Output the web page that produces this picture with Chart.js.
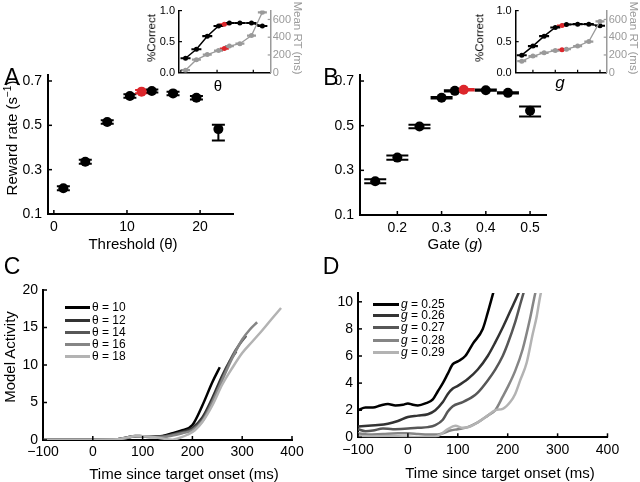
<!DOCTYPE html>
<html>
<head>
<meta charset="utf-8">
<script src="https://cdn.jsdelivr.net/npm/chart.js@4.4.1/dist/chart.umd.min.js"></script>
<style>
  body { margin: 0; background: #fff; }
  #fig { position: relative; width: 640px; height: 482px; overflow: hidden; font-family: "Liberation Sans", Arial, sans-serif; }
  #fig canvas { position: absolute; left: 0; top: 0; }
  .t { position: absolute; white-space: nowrap; line-height: 1; transform: translate(-50%, -50%); }
  .leg { position: absolute; font-size: 12px; line-height: 1; white-space: nowrap; }
</style>
</head>
<body>
<div id="fig">
  <canvas id="cA" width="640" height="482"></canvas>
  <canvas id="cB" width="640" height="482"></canvas>
  <canvas id="cC" width="640" height="482"></canvas>
  <canvas id="cD" width="640" height="482"></canvas>
  <canvas id="iA" width="640" height="482"></canvas>
  <canvas id="iB" width="640" height="482"></canvas>
</div>
<script>
// ---------- data ----------
// panel A: reward rate vs threshold
const thetaA = [1.3, 4.3, 7.3, 10.4, 12, 13.4, 16.3, 19.5, 22.5];
const rewardA = [0.216, 0.336, 0.515, 0.632, 0.652, 0.655, 0.644, 0.624, 0.483];
const rewardA_lo = [0.207, 0.327, 0.507, 0.624, 0.645, 0.648, 0.636, 0.616, 0.432];
const rewardA_hi = [0.225, 0.345, 0.523, 0.640, 0.659, 0.662, 0.652, 0.632, 0.503];
const bestA = 4;

// panel B: reward rate vs gate
const gateB = [0.15, 0.2, 0.25, 0.3, 0.33, 0.35, 0.4, 0.45, 0.5];
const rewardB = [0.251, 0.357, 0.496, 0.625, 0.656, 0.661, 0.659, 0.647, 0.567];
const rewardB_lo = [0.242, 0.348, 0.488, 0.622, 0.653, 0.658, 0.656, 0.644, 0.541];
const rewardB_hi = [0.260, 0.366, 0.504, 0.628, 0.659, 0.664, 0.662, 0.650, 0.586];
const bestB = 5;

// insets: % correct and mean RT
const correctA = [0.233, 0.378, 0.588, 0.752, 0.78, 0.80, 0.80, 0.80, 0.752];
const rtA = [28, 147, 204, 249, 272, 300, 327, 418, 681];
const correctB = [0.282, 0.428, 0.588, 0.728, 0.76, 0.777, 0.782, 0.782, 0.757];
const rtB = [130, 188, 224, 249, 258, 265, 300, 351, 578];

// panel C: activity traces per threshold  [time ms, activity]
const theta10 = [[-100,0.05],[-50,0.05],[0,0.05],[50,0.1],[70,0.35],[85,0.55],[100,0.5],[120,0.45],[140,0.55],[160,0.9],[180,1.3],[200,2.0],[220,4.6],[240,7.7],[255,9.7]];
const theta12 = [[-100,0.05],[-50,0.05],[0,0.05],[50,0.1],[70,0.35],[85,0.5],[100,0.5],[120,0.45],[140,0.5],[160,0.75],[180,1.1],[200,1.6],[220,3.0],[240,5.6],[260,8.6],[275,10.5],[288,11.8]];
const theta14 = [[-100,0.05],[-50,0.05],[0,0.05],[50,0.1],[70,0.3],[85,0.5],[100,0.45],[120,0.4],[140,0.45],[160,0.7],[180,1.0],[200,1.4],[220,2.7],[240,5.2],[260,8.2],[280,11.2],[295,12.8],[308,13.9]];
const theta16 = [[-100,0.05],[-50,0.05],[0,0.05],[50,0.1],[70,0.3],[85,0.5],[100,0.45],[120,0.4],[140,0.4],[160,0.6],[180,0.9],[200,1.3],[220,2.5],[240,5.0],[260,8.0],[280,10.9],[300,13.4],[315,14.7],[330,15.7]];
const theta18 = [[-100,0.05],[-50,0.05],[0,0.05],[50,0.1],[70,0.35],[85,0.55],[100,0.5],[120,0.4],[140,0.2],[160,0.05],[175,0.3],[190,0.7],[205,1.3],[220,2.4],[240,4.6],[260,7.4],[280,9.6],[300,11.6],[320,13.1],[340,14.6],[360,16.2],[378,17.6]];
const thetaLabels = ['θ = 10', 'θ = 12', 'θ = 14', 'θ = 16', 'θ = 18'];

// panel D: activity traces per gate
const gate25 = [[-100,2.0],[-85,2.2],[-70,2.2],[-55,2.35],[-40,2.45],[-25,2.35],[-10,2.4],[0,2.5],[10,2.4],[20,2.35],[35,2.5],[50,2.8],[60,3.4],[70,4.0],[80,4.7],[90,5.4],[100,5.6],[115,6.0],[130,6.9],[150,8.0],[160,9.2],[175,11.2]];
const gate26 = [[-100,0.8],[-80,0.85],[-60,0.9],[-40,1.0],[-20,1.2],[0,1.5],[20,1.6],[40,1.7],[55,2.0],[70,2.6],[80,3.2],[90,3.6],[100,3.8],[120,4.3],[140,5.0],[160,6.0],[175,7.0],[190,8.1],[205,9.3],[220,10.5],[228,11.2]];
const gate27 = [[-100,0.6],[-85,0.45],[-70,0.5],[-50,0.65],[-30,0.6],[0,0.65],[20,0.7],[40,0.75],[55,0.9],[70,1.3],[80,1.9],[90,2.3],[110,2.6],[130,3.0],[140,3.3],[160,4.2],[175,5.0],[190,6.0],[200,6.9],[215,8.5],[225,9.8],[236,11.2]];
const gate28 = [[-100,0.3],[-80,0.2],[-50,0.25],[-20,0.3],[0,0.3],[20,0.25],[40,0.2],[60,0.2],[70,0.3],[85,0.5],[100,0.6],[120,0.75],[140,1.1],[160,1.6],[175,2.0],[190,3.0],[200,3.7],[215,4.9],[230,6.5],[245,8.8],[255,10.6],[260,11.3]];
const gate29 = [[-100,0.1],[-70,0.05],[-40,0.1],[0,0.05],[30,0.0],[50,0.0],[65,0.2],[80,0.6],[95,0.85],[110,0.7],[125,0.8],[140,1.1],[160,1.6],[175,2.0],[190,2.1],[205,2.6],[215,3.2],[225,4.2],[238,5.5],[250,7.6],[258,8.9],[265,10.4],[270,11.2]];
const gateLabels = ['0.25', '0.26', '0.27', '0.28', '0.29'];

// tick labels
const ticksA_x = [0, 10, 20];
const ticksA_y = [0.1, 0.3, 0.5, 0.7];
const ticksB_x = [0.2, 0.3, 0.4, 0.5];
const ticksTime = [-100, 0, 100, 200, 300, 400];
const ticksC_y = [0, 5, 10, 15, 20];
const ticksD_y = [0, 2, 4, 6, 8, 10];
const ticksInset_y = [0, 0.5, 1];
const ticksInset_rt = [0, 200, 400, 600];

const RED = '#dc262b';
const GRAY = '#9a9a9a';
const traceColors = ['#000000', '#333333', '#575757', '#858585', '#b3b3b3'];

Chart.defaults.font.family = '"Liberation Sans", Arial, sans-serif';
Chart.defaults.color = '#000';

// ---------- helpers ----------
const errorBars = {
  id: 'errorBars',
  beforeDatasetsDraw(chart) {
    const ctx = chart.ctx;
    chart.data.datasets.forEach((ds, di) => {
      if (!ds.errLo) return;
      const meta = chart.getDatasetMeta(di);
      const ys = chart.scales[meta.yAxisID];
      const half = ds.capWidth / 2;
      ctx.save();
      ctx.lineWidth = ds.errWidth || 2;
      meta.data.forEach((pt, i) => {
        const yLo = ys.getPixelForValue(ds.errLo[i]);
        const yHi = ys.getPixelForValue(ds.errHi[i]);
        ctx.strokeStyle = i === ds.best ? RED : ds.errColor;
        ctx.beginPath();
        ctx.moveTo(pt.x, yLo); ctx.lineTo(pt.x, yHi);
        ctx.moveTo(pt.x - half, yLo); ctx.lineTo(pt.x + half, yLo);
        ctx.moveTo(pt.x - half, yHi); ctx.lineTo(pt.x + half, yHi);
        ctx.stroke();
      });
      ctx.restore();
    });
  }
};

// inward tick marks
function inTicks(axes, len, width) {
  return {
    id: 'inTicks',
    afterDraw(chart) {
      const ctx = chart.ctx;
      ctx.save();
      ctx.lineWidth = width;
      Object.keys(axes).forEach(id => {
        const s = chart.scales[id];
        ctx.strokeStyle = s.options.border.color;
        axes[id].forEach(v => {
          const p = s.getPixelForValue(v);
          ctx.beginPath();
          if (s.position === 'bottom') { ctx.moveTo(p, s.top); ctx.lineTo(p, s.top - len); }
          else if (s.position === 'left') { ctx.moveTo(s.right, p); ctx.lineTo(s.right + len, p); }
          else { ctx.moveTo(s.left, p); ctx.lineTo(s.left - len, p); }
          ctx.stroke();
        });
      });
      ctx.restore();
    }
  };
}

function fmt(v) { return v < 0 ? '\u2212' + Math.abs(v) : String(v); }

function axis(opts) {
  return {
    type: 'linear',
    position: opts.position,
    min: opts.min, max: opts.max,
    afterBuildTicks: s => { s.ticks = opts.ticks.map(v => ({ value: v })); },
    afterFit: s => { if (opts.position === 'bottom') s.height = opts.size; else s.width = opts.size; },
    grid: { display: false, drawTicks: false },
    border: { color: opts.color || '#000', width: opts.lw || 2 },
    ticks: {
      display: opts.labels !== false,
      padding: opts.pad, autoSkip: false, maxRotation: 0,
      color: opts.color || '#000',
      font: { size: opts.font || 14 },
      callback: opts.cb || (v => fmt(v))
    }
  };
}

const baseOpts = (pad) => ({
  responsive: false, animation: false, events: [],
  layout: { padding: pad },
  plugins: { legend: { display: false }, tooltip: { enabled: false } }
});

function rewardChart(id, xs, ys, lo, hi, best, cap, xAx, pad, xTicks) {
  return new Chart(document.getElementById(id), {
    type: 'scatter',
    data: { datasets: [{
      data: xs.map((x, i) => ({ x: x, y: ys[i] })),
      pointRadius: 5, pointBorderWidth: 0,
      pointBackgroundColor: c => c.dataIndex === best ? RED : '#000',
      errLo: lo, errHi: hi, capWidth: cap, best: best, errColor: '#000'
    }] },
    options: Object.assign(baseOpts(pad), {
      scales: {
        x: xAx,
        y: axis({ position: 'left', min: 0.1, max: 0.727, ticks: ticksA_y, size: 40, pad: 6, cb: v => v.toFixed(1) })
      }
    }),
    plugins: [errorBars, inTicks({ x: xTicks, y: ticksA_y }, 4, 1.5)]
  });
}

rewardChart('cA', thetaA, rewardA, rewardA_lo, rewardA_hi, bestA, 13,
  axis({ position: 'bottom', min: -0.8, max: 24.5, ticks: ticksA_x, size: 30, pad: 5 }),
  { left: 8, right: 407, top: 75, bottom: 238 }, ticksA_x);

rewardChart('cB', gateB, rewardB, rewardB_lo, rewardB_hi, bestB, 22,
  axis({ position: 'bottom', min: 0.1156, max: 0.536, ticks: ticksB_x, size: 30, pad: 5, cb: v => v.toFixed(1) }),
  { left: 320, right: 94, top: 75, bottom: 237 }, ticksB_x);

// ---------- insets ----------
function inset(id, xs, corr, rt, xmin, xmax, xTicks, pad) {
  return new Chart(document.getElementById(id), {
    type: 'line',
    data: { datasets: [
      {
        data: xs.map((x, i) => ({ x: x, y: rt[i] })), yAxisID: 'y2',
        borderColor: GRAY, borderWidth: 1.3, pointRadius: 2.5, pointBorderWidth: 0,
        pointBackgroundColor: c => c.dataIndex === 4 ? RED : GRAY,
        errLo: rt.map(v => v - 4), errHi: rt.map(v => v + 4), capWidth: 9, best: 4, errColor: GRAY, errWidth: 1.5
      },
      {
        data: xs.map((x, i) => ({ x: x, y: corr[i] })), yAxisID: 'y',
        borderColor: '#000', borderWidth: 1.5, pointRadius: 2.5, pointBorderWidth: 0,
        pointBackgroundColor: c => c.dataIndex === 4 ? RED : '#000',
        errLo: corr.map(v => v - 0.005), errHi: corr.map(v => v + 0.005), capWidth: 10, best: 4, errColor: '#000', errWidth: 1.5
      }
    ] },
    options: Object.assign(baseOpts(pad), {
      scales: {
        x: axis({ position: 'bottom', min: xmin, max: xmax, ticks: xTicks, size: 10, pad: 0, labels: false, lw: 1.5 }),
        y: axis({ position: 'left', min: 0, max: 1.0, ticks: ticksInset_y, size: 30, pad: 4, font: 11, lw: 1.5, cb: v => v.toFixed(1) }),
        y2: axis({ position: 'right', min: 0, max: 700, ticks: ticksInset_rt, size: 30, pad: 2, font: 11, lw: 1.5, color: GRAY })
      }
    }),
    plugins: [errorBars, inTicks({ x: xTicks, y: [0.5, 1], y2: [200, 400, 600] }, 3, 1.2)]
  });
}

inset('iA', thetaA, correctA, rtA, -0.5, 24.8, [0, 10, 20], { left: 149, right: 339.3, top: 4, bottom: 399.3 });
inset('iB', gateB, correctB, rtB, 0.123, 0.53, ticksB_x, { left: 485.7, right: 3.3, top: 4, bottom: 399.3 });

// ---------- traces ----------
function traceChart(id, series, ymax, yTicks, pad) {
  return new Chart(document.getElementById(id), {
    type: 'line',
    data: { datasets: series.map((s, i) => ({
      data: s.map(p => ({ x: p[0], y: p[1] })),
      borderColor: traceColors[i], borderWidth: 2.5, pointRadius: 0,
      cubicInterpolationMode: 'monotone'
    })).reverse() },
    options: Object.assign(baseOpts(pad), {
      scales: {
        x: axis({ position: 'bottom', min: -100, max: 400, ticks: ticksTime, size: 30, pad: 4 }),
        y: axis({ position: 'left', min: 0, max: ymax, ticks: yTicks, size: 40, pad: 5 })
      }
    }),
    plugins: [inTicks({ x: ticksTime, y: yTicks }, 4, 1.5)]
  });
}

traceChart('cC', [theta10, theta12, theta14, theta16, theta18], 20, ticksC_y, { left: 3, right: 348, top: 290, bottom: 12 });
traceChart('cD', [gate25, gate26, gate27, gate28, gate29], 10.65, ticksD_y, { left: 318, right: 32.5, top: 293, bottom: 14.7 });

// ---------- text ----------
const fig = document.getElementById('fig');
function txt(html, x, y, size, extra) {
  const d = document.createElement('div');
  d.className = 't';
  d.innerHTML = html;
  d.style.left = x + 'px';
  d.style.top = y + 'px';
  d.style.fontSize = size + 'px';
  if (extra) Object.assign(d.style, extra);
  fig.appendChild(d);
  return d;
}
const rotL = { transform: 'translate(-50%, -50%) rotate(-90deg)' };
const rotR = { transform: 'translate(-50%, -50%) rotate(90deg)', color: GRAY };

txt('A', 12, 77, 23); txt('B', 331, 77, 23); txt('C', 12, 266, 23); txt('D', 331, 266, 23);
txt('Reward rate (s<sup style="font-size:10px">\u22121</sup>)', 11, 138, 15, rotL);
txt('Threshold (\u03b8)', 133, 243, 15);
txt('Gate (<i>g</i>)', 455, 243, 15);
txt('Model Activity', 9, 357, 15, rotL);
txt('Time since target onset (ms)', 184, 473, 15);
txt('Time since target onset (ms)', 500, 472, 15);
txt('%Correct', 152, 38, 11.5, rotL);
txt('Mean RT (ms)', 297, 38, 11.5, rotR);
txt('\u03b8', 218, 85, 15);
txt('%Correct', 480, 38, 11.5, rotL);
txt('Mean RT (ms)', 633, 38, 11.5, rotR);
txt('<i>g</i>', 560, 82, 17);

function legend(labels, x0, x1, rows, prefix) {
  labels.forEach((lab, i) => {
    const ln = document.createElement('div');
    ln.style.cssText = 'position:absolute;height:3px;left:' + x0 + 'px;width:' + (x1 - x0) + 'px;top:' + (rows[i] - 1.5) + 'px;background:' + traceColors[i];
    fig.appendChild(ln);
    const t = document.createElement('div');
    t.className = 'leg';
    t.innerHTML = prefix + lab;
    t.style.left = (x1 + 2) + 'px';
    t.style.top = (rows[i] - 6.5) + 'px';
    fig.appendChild(t);
  });
}
legend(thetaLabels, 65, 90, [307.5, 320, 332.5, 344.3, 356], '');
legend(gateLabels, 373, 399, [304, 315.5, 327.5, 340, 352], '<i>g</i> = ');
</script>
</body>
</html>
